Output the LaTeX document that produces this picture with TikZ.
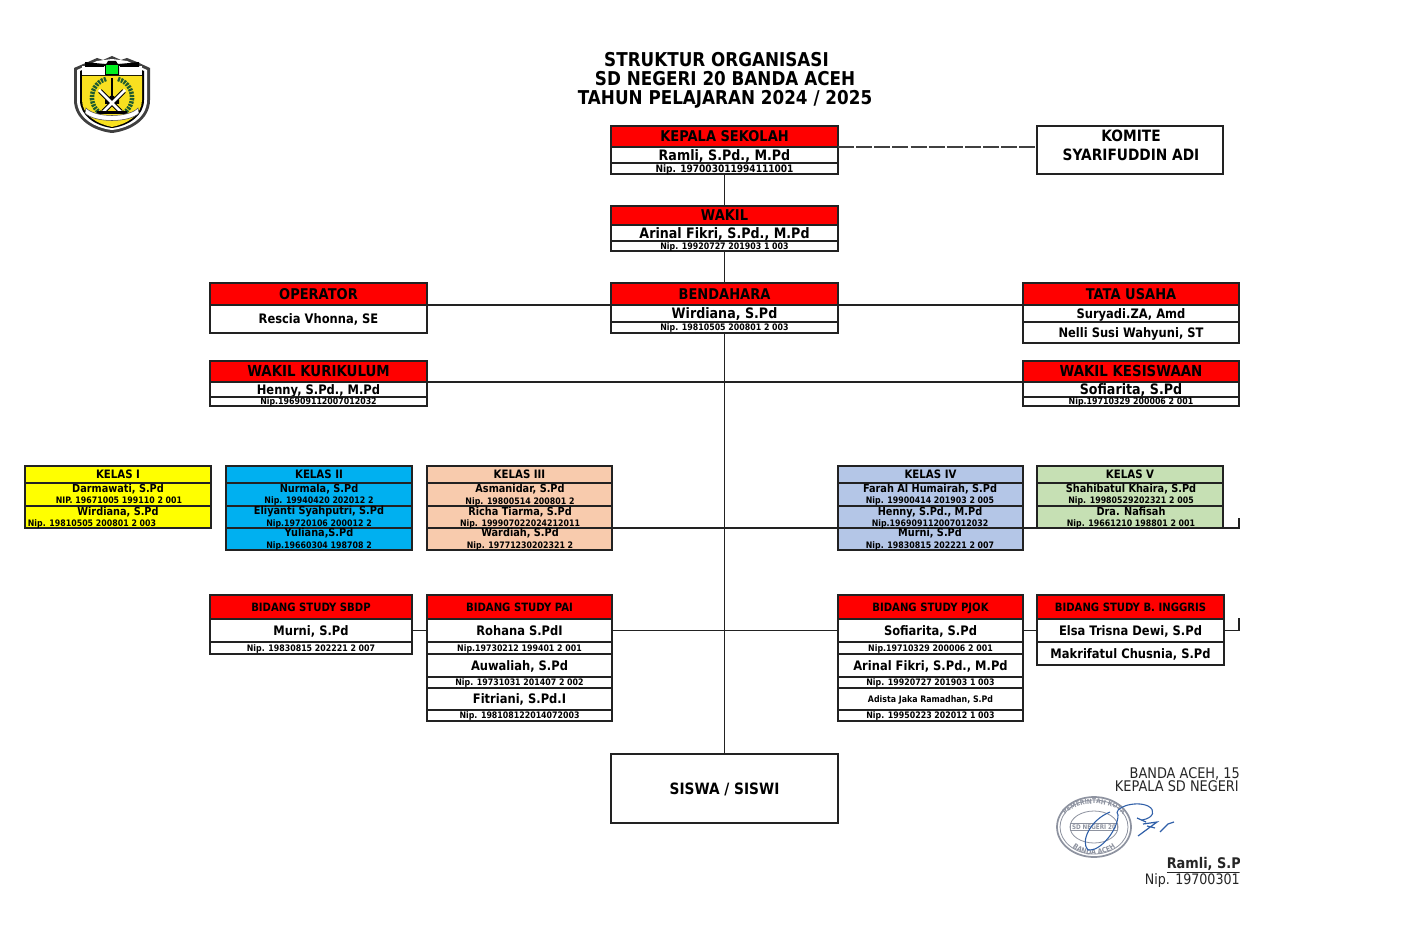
\documentclass[tikz,border=0pt]{standalone}
\usepackage{fontspec}
\setmainfont[FakeStretch=0.88]{DejaVu Sans}
\usetikzlibrary{decorations.text}
\newcount\lblc
% \cell{name}{x1}{y1}{x2}{y2}{style}{text}
\newcommand\cell[7]{\node[cellbox,#6,minimum width={(#4-#2)*.75pt},minimum height={(#5-#3)*.75pt}] (#1) at ({(#2+#4)/2},{(#3+#5)/2}) {\raisebox{-.36em}[0pt][0pt]{#7}};}
% \lbl{x}{y}{style}{text}
\newcommand\lbl[4]{\global\advance\lblc by 1 \node[lblbox,#3] (lbl\the\lblc) at (#1,#2) {\raisebox{-.36em}[0pt][0pt]{#4}};}
\tikzset{
 cellbox/.style={draw=linecol,line width=.85pt,inner sep=0pt,outer sep=0pt,text=black,fill=white,font=\fontsize{10.8}{12}\selectfont\bfseries},
 lblbox/.style={inner sep=0pt,outer sep=0pt,text=black,font=\fontsize{8.4}{10}\selectfont\bfseries},
 ttl/.style={font=\fontsize{14.3}{16}\selectfont\bfseries},
 hdr/.style={fill=red,font=\fontsize{11.1}{13}\selectfont\bfseries},
 hdl/.style={fill=red,font=\fontsize{11.4}{13}\selectfont\bfseries},
 big/.style={font=\fontsize{10.8}{12}\selectfont\bfseries},
 nmr/.style={font=\fontsize{9.8}{11}\selectfont\bfseries},
 large/.style={font=\fontsize{11.7}{14}\selectfont\bfseries},
 nip/.style={font=\fontsize{6.7}{8}\selectfont\bfseries},
 nipk/.style={font=\fontsize{7.7}{9}\selectfont\bfseries},
 kname/.style={font=\fontsize{8.3}{9}\selectfont\bfseries},
 knip/.style={font=\fontsize{6.7}{8}\selectfont\bfseries},
 khd/.style={font=\fontsize{8.7}{10}\selectfont\bfseries},
 bhd/.style={font=\fontsize{8.6}{10}\selectfont\bfseries,fill=red},
 conn/.style={draw=linecol,line width=1.2pt},
 sigtext/.style={inner sep=0pt,anchor=east,text=black!85,font=\fontsize{11}{13}\selectfont},
 stampc/.style={draw=stampgray},
}
\definecolor{linecol}{HTML}{222222}
\definecolor{kone}{HTML}{FFFF00}
\definecolor{ktwo}{HTML}{00B0F0}
\definecolor{kthree}{HTML}{F8CBAD}
\definecolor{kfour}{HTML}{B4C6E7}
\definecolor{kfive}{HTML}{C6E0B4}
\definecolor{stampgray}{HTML}{8E93A0}
\definecolor{sigblue}{HTML}{2F5FA8}
\definecolor{logoy}{HTML}{F8E020}
\definecolor{logog}{HTML}{00F020}
\definecolor{logow}{HTML}{1E5B30}
\begin{document}
\begin{tikzpicture}[x=.75pt,y=-.75pt]
\useasboundingbox[fill=white] (0,0) rectangle (1401,927);

% ---- emblem
\fill[black!75] (74,68) -- (88,62) -- (97,58) -- (103,60) -- (112,56) -- (121,60) -- (127,58) -- (137,62) -- (150,68) -- (150,100) .. controls (150,120) and (130,131) .. (112,133) .. controls (94,131) and (74,120) .. (74,100) -- cycle;
\fill[white] (77,70) -- (97,61) -- (112,59) -- (127,61) -- (147,70) -- (147,100) .. controls (147,118) and (129,128) .. (112,130) .. controls (95,128) and (77,118) .. (77,100) -- cycle;
\fill[black] (80,71) -- (97,64) -- (127,64) -- (144,71) -- (144,100) .. controls (144,116) and (128,126) .. (112,128) .. controls (96,126) and (80,116) .. (80,100) -- cycle;
\fill[white] (82,66) rectangle (142,75);
\fill[black] (85,62) -- (104,64) -- (104,67) -- (85,67) -- cycle;
\fill[black] (139,62) -- (120,64) -- (120,67) -- (139,67) -- cycle;
\fill[black] (105,75) -- (105,66) -- (108,61) -- (116,61) -- (119,66) -- (119,75) -- cycle;
\fill[logog] (106,74) rectangle (118,65);
\fill[logoy] (82,76) -- (142,76) -- (142,100) .. controls (142,115) and (127,124) .. (112,127) .. controls (97,124) and (82,115) .. (82,100) -- cycle;
\draw[logow,line width=3.4pt,dash pattern=on 1.6pt off .8pt] (106,79) arc[start angle=-105,end angle=-235,radius=19];
\draw[logow,line width=3.4pt,dash pattern=on 1.6pt off .8pt] (118,79) arc[start angle=-75,end angle=55,radius=19];
\fill[black] (111,78) rectangle (113,100);
\fill[black] (105,100) -- (112,95) -- (119,100) -- (119,104) -- (105,104) -- cycle;
\draw[black,line width=3.6pt] (100,91) -- (121,112) (124,91) -- (103,112);
\draw[white,line width=2pt] (99,90) -- (121,112) (125,90) -- (103,112);
\fill[black] (97,111) rectangle (127,114);
\fill[white,draw=black!70,line width=.4pt] (86,108) .. controls (95,118) and (129,118) .. (138,108) -- (139,113) .. controls (130,123) and (94,123) .. (85,113) -- cycle;

% ---- title
\lbl{716.5}{60}{ttl}{STRUKTUR ORGANISASI}
\lbl{725}{79}{ttl}{SD NEGERI 20 BANDA ACEH}
\lbl{725}{98}{ttl}{TAHUN PELAJARAN 2024 / 2025}

\coordinate (kelasEnd) at (1239,518);
\coordinate (bidEnd) at (1239,618);

% ---- top column
\cell{kh}{611}{126}{838}{147}{hdr}{KEPALA SEKOLAH}
\cell{kn}{611}{147}{838}{163}{big}{Ramli, S.Pd., M.Pd}
\cell{kp}{611}{163}{838}{174}{nipk}{Nip. 197003011994111001}
\cell{komite}{1037}{126}{1223}{174}{nmr}{}
\lbl{1131}{136}{large}{KOMITE}
\lbl{1131}{155}{large}{SYARIFUDDIN ADI}
\cell{wh}{611}{206}{838}{225}{hdr}{WAKIL}
\cell{wn}{611}{225}{838}{241}{big}{Arinal Fikri, S.Pd., M.Pd}
\cell{wp}{611}{241}{838}{251}{nip}{Nip. 19920727 201903 1 003}
\cell{oh}{210}{283}{427}{305}{hdr}{OPERATOR}
\cell{on}{210}{305}{427}{333}{nmr}{Rescia Vhonna, SE}
\cell{bh}{611}{283}{838}{305}{hdr}{BENDAHARA}
\cell{bn}{611}{305}{838}{322}{big}{Wirdiana, S.Pd}
\cell{bp}{611}{322}{838}{333}{nip}{Nip. 19810505 200801 2 003}
\cell{th}{1023}{283}{1239}{305}{hdr}{TATA USAHA}
\cell{tn}{1023}{305}{1239}{322}{nmr}{Suryadi.ZA, Amd}
\cell{tm}{1023}{322}{1239}{343}{nmr}{Nelli Susi Wahyuni, ST}
\cell{wkh}{210}{361}{427}{382}{hdl}{WAKIL KURIKULUM}
\cell{wkn}{210}{382}{427}{397}{nmr}{Henny, S.Pd., M.Pd}
\cell{wkp}{210}{397}{427}{406}{knip}{Nip.196909112007012032}
\cell{wsh}{1023}{361}{1239}{382}{hdl}{WAKIL KESISWAAN}
\cell{wsn}{1023}{382}{1239}{397}{big}{Sofiarita, S.Pd}
\cell{wsp}{1023}{397}{1239}{406}{knip}{Nip.19710329 200006 2 001}

% ---- classes
\cell{k1h}{25}{466}{211}{483}{fill=kone,khd}{KELAS I}
\cell{k1a}{25}{483}{211}{506}{fill=kone}{}
\cell{k1b}{25}{506}{211}{528}{fill=kone}{}
\lbl{118}{489}{kname}{Darmawati, S.Pd}
\lbl{119}{500}{knip}{NIP. 19671005 199110 2 001}
\lbl{118}{512}{kname}{Wirdiana, S.Pd}
\lbl{92}{523}{knip}{Nip. 19810505 200801 2 003}

\cell{k2h}{226}{466}{412}{483}{fill=ktwo,khd}{KELAS II}
\cell{k2a}{226}{483}{412}{506}{fill=ktwo}{}
\cell{k2b}{226}{506}{412}{528}{fill=ktwo}{}
\cell{k2c}{226}{528}{412}{550}{fill=ktwo}{}
\lbl{319}{489}{kname}{Nurmala, S.Pd}
\lbl{319}{500}{knip}{Nip. 19940420 202012 2}
\lbl{319}{511}{kname}{Eliyanti Syahputri, S.Pd}
\lbl{319}{523}{knip}{Nip.19720106 200012 2}
\lbl{319}{533}{kname}{Yuliana,S.Pd}
\lbl{319}{545}{knip}{Nip.19660304 198708 2}

\cell{k3h}{427}{466}{612}{483}{fill=kthree,khd}{KELAS III}
\cell{k3a}{427}{483}{612}{506}{fill=kthree}{}
\cell{k3b}{427}{506}{612}{528}{fill=kthree}{}
\cell{k3c}{427}{528}{612}{550}{fill=kthree}{}
\lbl{520}{489}{kname}{Asmanidar, S.Pd}
\lbl{520}{501}{knip}{Nip. 19800514 200801 2}
\lbl{520}{512}{kname}{Richa Tiarma, S.Pd}
\lbl{520}{523}{knip}{Nip. 199907022024212011}
\lbl{520}{533}{kname}{Wardiah, S.Pd}
\lbl{520}{545}{knip}{Nip. 19771230202321 2}

\cell{k4h}{838}{466}{1023}{483}{fill=kfour,khd}{KELAS IV}
\cell{k4a}{838}{483}{1023}{506}{fill=kfour}{}
\cell{k4b}{838}{506}{1023}{528}{fill=kfour}{}
\cell{k4c}{838}{528}{1023}{550}{fill=kfour}{}
\lbl{930}{489}{kname}{Farah Al Humairah, S.Pd}
\lbl{930}{500}{knip}{Nip. 19900414 201903 2 005}
\lbl{930}{512}{kname}{Henny, S.Pd., M.Pd}
\lbl{930}{523}{knip}{Nip.196909112007012032}
\lbl{930}{533}{kname}{Murni, S.Pd}
\lbl{930}{545}{knip}{Nip. 19830815 202221 2 007}

\cell{k5h}{1037}{466}{1223}{483}{fill=kfive,khd}{KELAS V}
\cell{k5a}{1037}{483}{1223}{506}{fill=kfive}{}
\cell{k5b}{1037}{506}{1223}{528}{fill=kfive}{}
\lbl{1131}{489}{kname}{Shahibatul Khaira, S.Pd}
\lbl{1131}{500}{knip}{Nip. 19980529202321 2 005}
\lbl{1131}{512}{kname}{Dra. Nafisah}
\lbl{1131}{523}{knip}{Nip. 19661210 198801 2 001}

% ---- subject teachers
\cell{sh}{210}{595}{412}{619}{bhd}{BIDANG STUDY SBDP}
\cell{sn}{210}{619}{412}{642}{nmr}{Murni, S.Pd}
\cell{sp}{210}{642}{412}{654}{knip}{Nip. 19830815 202221 2 007}

\cell{ph}{427}{595}{612}{619}{bhd}{BIDANG STUDY PAI}
\cell{pn}{427}{619}{612}{642}{nmr}{Rohana S.PdI}
\cell{pp}{427}{642}{612}{654}{knip}{Nip.19730212 199401 2 001}
\cell{pn2}{427}{654}{612}{677}{nmr}{Auwaliah, S.Pd}
\cell{pp2}{427}{677}{612}{688}{knip}{Nip. 19731031 201407 2 002}
\cell{pn3}{427}{688}{612}{710}{nmr}{Fitriani, S.Pd.I}
\cell{pp3}{427}{710}{612}{721}{knip}{Nip. 198108122014072003}

\cell{jh}{838}{595}{1023}{619}{bhd}{BIDANG STUDY PJOK}
\cell{jn}{838}{619}{1023}{642}{nmr}{Sofiarita, S.Pd}
\cell{jp}{838}{642}{1023}{654}{knip}{Nip.19710329 200006 2 001}
\cell{jn2}{838}{654}{1023}{677}{nmr}{Arinal Fikri, S.Pd., M.Pd}
\cell{jp2}{838}{677}{1023}{688}{knip}{Nip. 19920727 201903 1 003}
\cell{jn3}{838}{688}{1023}{710}{knip}{Adista Jaka Ramadhan, S.Pd}
\cell{jp3}{838}{710}{1023}{721}{knip}{Nip. 19950223 202012 1 003}

\cell{ih}{1037}{595}{1224}{619}{bhd}{BIDANG STUDY B. INGGRIS}
\cell{in}{1037}{619}{1224}{642}{nmr}{Elsa Trisna Dewi, S.Pd}
\cell{im}{1037}{642}{1224}{665}{nmr}{Makrifatul Chusnia, S.Pd}

\cell{siswa}{611}{754}{838}{823}{large}{SISWA / SISWI}

% ---- connectors
\draw[conn] (kp.south) -- (wh.north);
\draw[conn] (wp.south) -- (bh.north);
\draw[conn] (bp.south) -- (siswa.north);
\draw[conn,line width=.8pt,draw=black!75,dash pattern=on 12pt off 1.6pt] (kh.south east) -- (kh.south east -| komite.west);
\draw[conn] (oh.south east) -- (bh.south west);
\draw[conn] (bh.south east) -- (th.south west);
\draw[conn] (wkh.south east) -- (wsh.south west);
\draw[conn] (k3b.south east) -- (k4b.south west);
\draw[conn] (k4b.south east) -- (k5b.south west);
\draw[conn] (k5b.south east) -- (kelasEnd |- k5b.south) -- (kelasEnd);
\draw[conn] (sn.east) -- (pn.west);
\draw[conn] (pn.east) -- (jn.west);
\draw[conn] (jn.east) -- (in.west);
\draw[conn] (in.east) -- (in.east -| bidEnd) -- (bidEnd);

% ---- stamp and signature
\draw[stampc,line width=1.3pt] (1094,827) ellipse[x radius=37,y radius=30];
\draw[stampc,line width=.6pt] (1094,827) ellipse[x radius=34,y radius=27];
\draw[stampc,line width=.6pt] (1094,827) ellipse[x radius=24,y radius=16];
\path[decorate,decoration={text along path,text align=center,text={|\fontsize{5}{6}\selectfont\color{stampgray}\bfseries|PEMERINTAH KOTA}}] (1063,818) .. controls (1072,799) and (1116,799) .. (1125,818);
\path[decorate,decoration={text along path,text align=center,text={|\fontsize{5.4}{6}\selectfont\color{stampgray}\bfseries|BANDA ACEH}}] (1068,843) .. controls (1080,859) and (1108,859) .. (1120,843);
\node[draw=stampgray,line width=.5pt,fill=white,inner sep=1pt,text=stampgray,font=\fontsize{4.8}{6}\selectfont\bfseries] (stamp) at (1094,827) {SD NEGERI 20};
\draw[sigblue,line width=.8pt] (1088,850) .. controls (1100,852) and (1118,830) .. (1118,815) .. controls (1112,808) and (1135,800) .. (1148,806) .. controls (1156,810) and (1154,818) .. (1142,820);
\draw[sigblue,line width=.8pt] (1088,850) .. controls (1080,842) and (1090,820) .. (1110,812);
\draw[sigblue,line width=.9pt] (1137,818) -- (1146,822) (1143,824) -- (1157,822) -- (1138,836) (1147,826) -- (1155,828) (1162,830) -- (1168,824) -- (1174,822) (1160,832) -- (1166,826);
\begin{scope}
\clip (1050,760) rectangle (1239.5,895);
\node[sigtext] (s1) at (1240,774) {BANDA ACEH, 15};
\node[sigtext] (s2) at (1239,786) {KEPALA SD NEGERI};
\node[sigtext,font=\fontsize{11}{13}\selectfont\bfseries] (s3) at (1241,865) {\underline{Ramli, S.P}};
\node[sigtext,font=\fontsize{10.8}{13}\selectfont] (s4) at (1240,881) {Nip. 19700301};
\end{scope}
\end{tikzpicture}
\end{document}
